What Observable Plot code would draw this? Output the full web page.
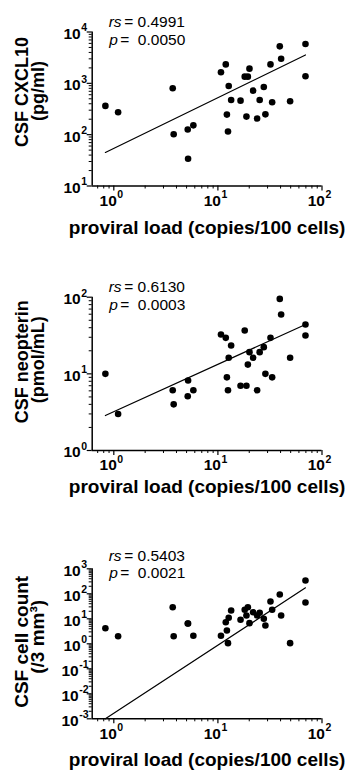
<!DOCTYPE html>
<html><head><meta charset="utf-8">
<script src="https://cdn.jsdelivr.net/npm/d3@7"></script>
<script src="https://cdn.jsdelivr.net/npm/@observablehq/plot@0.6"></script>
<style>
body{margin:0;background:#fff;}
#c{width:345px;}
#c svg{display:block;}
</style></head><body><div id="c"></div>
<script>
// proviral load (copies/100 cells), shared by the three panels
const provLoad = [0.83,1.10,3.68,3.76,5.13,5.17,5.81,10.7,11.9,12.2,12.5,12.7,13.4,16.5,18.1,18.8,19.4,20.1,21.8,23.8,25.2,27.6,28.6,32,33.2,39.3,40.5,49.4,69.4,69.4];
const cxcl10 = [363,273,800,102,126,34,152,1640,2340,246,115,890,475,460,1350,225,1350,1930,720,206,475,850,249,2340,427,5250,3020,447,5850,1370];
const neopterin = [10,3.0,6.1,4.0,5.1,8.2,6.1,32.6,29.5,9.0,6.1,16.2,23.4,7.0,36.8,7.0,13.2,19.2,16.2,6.1,19.2,22.3,10,29.5,9.0,95,59.5,16.2,44,31.6];
const cellCount = [4.2,2.0,29,2.0,6.5,6.5,2.1,2.1,7.3,3.4,1.06,11,21.5,9.1,23,13.6,29,6.7,18.4,13.6,17.4,10,5.4,49,23,94,13.6,1.06,340,45];
// regression lines (endpoints)
const fitX = [0.83, 69.4];
const cxcl10Fit = [45, 3570];
const neopterinFit = [2.86, 44];
const cellCountFit = [0.001, 174];
// axes
const xDomain = [0.62, 100];
const xTickExps = [0, 1, 2];
const cxcl10TickExps = [1, 2, 3, 4];
const neopterinTickExps = [0, 1, 2];
const cellCountTickExps = [-3, -2, -1, 0, 1, 2, 3];
const xLabel = "proviral load (copies/100 cells)";
const yTitles = ["CSF CXCL10", "CSF neopterin", "CSF cell count"];
const yUnits = ["(pg/ml)", "(pmol/mL)", "(/3 mm³)"];
const rsValues = ["0.4991", "0.6130", "0.5403"];
const pValues = ["0.0050", "0.0003", "0.0021"];

const FONT = "'Liberation Sans', Arial, Helvetica, sans-serif";

function minorTicks(lo, hi) {
  const out = [];
  for (let e = Math.floor(Math.log10(lo)) - 1; e <= Math.ceil(Math.log10(hi)); e++)
    for (let k = 2; k <= 9; k++) {
      const v = k * Math.pow(10, e);
      if (v >= lo * 0.9999 && v <= hi * 1.0001) out.push(v);
    }
  return out;
}

const panels = [
  {y: cxcl10, fit: cxcl10Fit, exps: cxcl10TickExps, height: 255, mt: 31.5, mb: 69.5,
   titleDy: -17, unitDy: -18, xTitleDy: 48, rsDy: -5, pDy: 12.5, titleSize: 18},
  {y: neopterin, fit: neopterinFit, exps: neopterinTickExps, height: 260, mt: 41.7, mb: 65,
   titleDy: -12, unitDy: -14, xTitleDy: 42, rsDy: -5, pDy: 13, titleSize: 18},
  {y: cellCount, fit: cellCountFit, exps: cellCountTickExps, height: 261, mt: 53.3, mb: 57.7,
   titleDy: -2, unitDy: -7, xTitleDy: 47, rsDy: -8, pDy: 9, titleSize: 19}
];

panels.forEach((p, i) => {
  const lo = Math.pow(10, p.exps[0]);
  const hi = Math.pow(10, p.exps[p.exps.length - 1]);
  const pts = provLoad.map((x, j) => ({x, y: p.y[j]}));
  const fit = fitX.map((x, j) => ({x, y: p.fit[j]}));
  const negExps = p.exps.filter(e => e < 0);
  const posExps = p.exps.filter(e => e >= 0);
  const chart = Plot.plot({
    width: 345, height: p.height,
    marginLeft: 91.7, marginRight: 23.5, marginTop: p.mt, marginBottom: p.mb,
    style: {fontFamily: FONT, background: "white", color: "black", overflow: "visible"},
    x: {type: "log", domain: xDomain},
    y: {type: "log", domain: [lo, hi]},
    marks: [
      Plot.axisX({ticks: xTickExps.map(e => Math.pow(10, e)), tickSize: 5, tickFormat: () => "", label: null, strokeWidth: 1.2}),
      Plot.axisX({ticks: minorTicks(xDomain[0], xDomain[1]), tickSize: 3, tickFormat: () => "", label: null}),
      Plot.axisY({ticks: p.exps.map(e => Math.pow(10, e)), tickSize: 5, tickFormat: () => "", label: null, strokeWidth: 1.2}),
      Plot.axisY({ticks: minorTicks(lo, hi), tickSize: 3, tickFormat: () => "", label: null}),
      Plot.ruleX([xDomain[0]], {strokeWidth: 1.5}),
      Plot.ruleY([lo], {strokeWidth: 1.5}),
      Plot.line(fit, {x: "x", y: "y", stroke: "black", strokeWidth: 1.2}),
      Plot.dot(pts, {x: "x", y: "y", r: 3.3, fill: "black"}),
      // x tick labels 10^n
      Plot.text(xTickExps, {x: d => Math.pow(10, d), frameAnchor: "bottom", dy: 15, dx: 3, textAnchor: "end", lineAnchor: "middle", text: () => "10", fontSize: 15.5, fontWeight: "bold"}),
      Plot.text(xTickExps, {x: d => Math.pow(10, d), frameAnchor: "bottom", dy: 9, dx: 3.5, textAnchor: "start", lineAnchor: "middle", text: d => String(d), fontSize: 10.5, fontWeight: "bold"}),
      // y tick labels 10^n (non-negative exponents)
      Plot.text(posExps, {y: d => Math.pow(10, d), frameAnchor: "left", dx: -11.5, dy: 2, textAnchor: "end", lineAnchor: "middle", text: () => "10", fontSize: 15.5, fontWeight: "bold"}),
      Plot.text(posExps, {y: d => Math.pow(10, d), frameAnchor: "left", dx: -11, dy: -4, textAnchor: "start", lineAnchor: "middle", text: d => String(d), fontSize: 10.5, fontWeight: "bold"}),
      // y tick labels 10^-n (wider exponent)
      Plot.text(negExps, {y: d => Math.pow(10, d), frameAnchor: "left", dx: -13.5, dy: 2, textAnchor: "end", lineAnchor: "middle", text: () => "10", fontSize: 15.5, fontWeight: "bold"}),
      Plot.text(negExps, {y: d => Math.pow(10, d), frameAnchor: "left", dx: -13, dy: -4, textAnchor: "start", lineAnchor: "middle", text: d => String(d), fontSize: 10.5, fontWeight: "bold"}),
      // axis titles
      Plot.text([xLabel], {text: d => d, frameAnchor: "bottom", dy: p.xTitleDy, textAnchor: "middle", lineAnchor: "bottom", fontSize: 19, fontWeight: "bold"}),
      Plot.text([yTitles[i]], {text: d => d, frameAnchor: "left", dx: -70, dy: p.titleDy, rotate: -90, textAnchor: "middle", lineAnchor: "middle", fontSize: p.titleSize, fontWeight: "bold"}),
      Plot.text([yUnits[i]], {text: d => d, frameAnchor: "left", dx: -54, dy: p.unitDy, rotate: -90, textAnchor: "middle", lineAnchor: "middle", fontSize: p.titleSize, fontWeight: "bold"}),
      // statistics
      Plot.text(["rs"], {text: d => d, frameAnchor: "top-left", dx: 16.5, dy: p.rsDy, textAnchor: "start", lineAnchor: "bottom", fontSize: 15.5, fontStyle: "italic"}),
      Plot.text([rsValues[i]], {text: d => "= " + d, frameAnchor: "top-left", dx: 32, dy: p.rsDy, textAnchor: "start", lineAnchor: "bottom", fontSize: 15.5}),
      Plot.text(["p"], {text: d => d, frameAnchor: "top-left", dx: 17, dy: p.pDy, textAnchor: "start", lineAnchor: "bottom", fontSize: 15.5, fontStyle: "italic"}),
      Plot.text([pValues[i]], {text: d => "=  " + d, frameAnchor: "top-left", dx: 28, dy: p.pDy, textAnchor: "start", lineAnchor: "bottom", fontSize: 15.5})
    ]
  });
  document.getElementById("c").appendChild(chart);
});
</script>
</body></html>
